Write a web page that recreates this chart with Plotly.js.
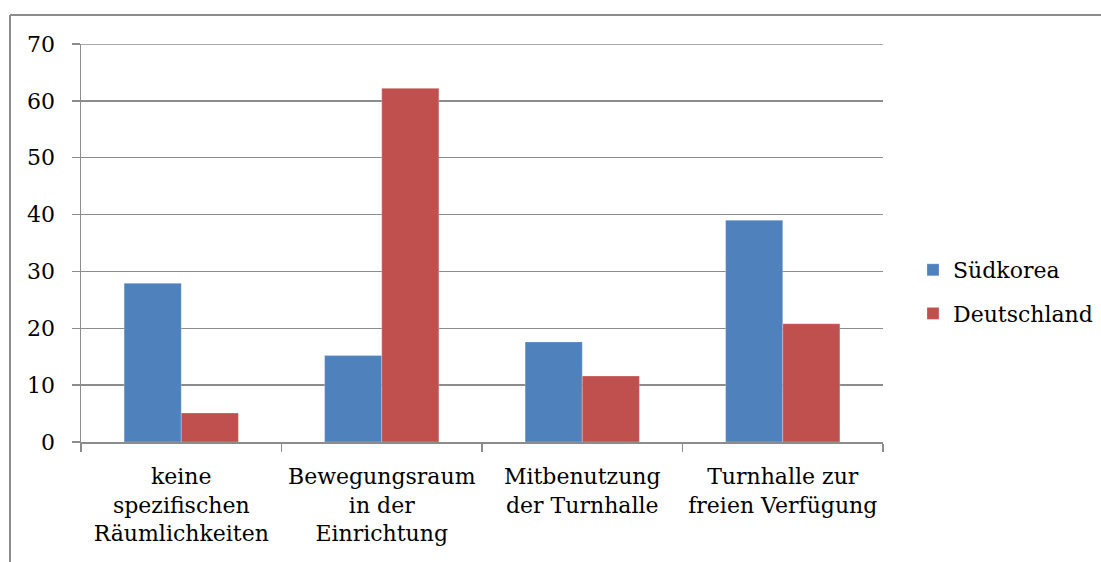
<!DOCTYPE html>
<html>
<head>
<meta charset="utf-8">
<script src="https://cdn.plot.ly/plotly-3.0.1.min.js"></script>
<style>html,body{margin:0;padding:0;background:#fff;}#chart{width:1101px;height:562px;}</style>
</head>
<body>
<div id="chart"></div>
<script>
const categories = [
  "keine<br>spezifischen<br>Räumlichkeiten",
  "Bewegungsraum<br>in der<br>Einrichtung",
  "Mitbenutzung<br>der Turnhalle",
  "Turnhalle zur<br>freien Verfügung"
];
const seriesNames = ["Südkorea", "Deutschland"];
const suedkorea = [27.9, 15.2, 17.6, 39.0];
const deutschland = [5.1, 62.2, 11.6, 20.8];
const yTicks = [0, 10, 20, 30, 40, 50, 60, 70];

const W = 1101, H = 562;
const M = {l: 81, r: 218, t: 44, b: 120, autoexpand: false};
const pw = W - M.l - M.r, ph = H - M.t - M.b;
const px = v => (v - M.l) / pw;
const py = v => (H - M.b - v) / ph;
const FONT = "DejaVu Serif, Liberation Serif, serif";
const FS = 22;
const GRID = "#8c8c8c";

const traces = [
  {type: "bar", name: seriesNames[0], x: categories, y: suedkorea, legendgroup: "a",
   marker: {color: "#4F81BD", line: {color: "rgba(255,255,255,0.5)", width: 0.5}}},
  {type: "bar", name: seriesNames[1], x: categories, y: deutschland, legendgroup: "b",
   marker: {color: "#C0504D", line: {color: "rgba(255,255,255,0.5)", width: 0.5}}}
];

const layout = {
  width: W, height: H,
  margin: M,
  paper_bgcolor: "#fff", plot_bgcolor: "#fff",
  font: {family: FONT, size: FS, color: "#000"},
  barmode: "group", bargap: 0.43, bargroupgap: 0,
  showlegend: true,
  legend: {x: px(913), y: py(292), xanchor: "left", yanchor: "middle",
           traceorder: "grouped", tracegroupgap: 12,
           font: {family: FONT, size: FS}, itemwidth: 30},
  xaxis: {type: "category", showline: true, linecolor: GRID, linewidth: 1.5, automargin: false,
          ticks: "outside", tickson: "boundaries", ticklen: 8, tickcolor: GRID, tickwidth: 1.5,
          showgrid: false, tickfont: {family: FONT, size: FS}, ticklabelstandoff: 14},
  yaxis: {range: [0, 70], tickvals: yTicks, showline: true, linecolor: GRID, linewidth: 1.5, automargin: false,
          ticks: "outside", ticklen: 8, tickcolor: GRID, tickwidth: 1.5,
          showgrid: true, gridcolor: GRID, gridwidth: 1.5, zeroline: false,
          tickfont: {family: FONT, size: FS}, ticklabelstandoff: 12},
  shapes: [
    {type: "line", xref: "paper", yref: "y", x0: px(73), x1: 1, y0: yTicks[yTicks.length - 1], y1: yTicks[yTicks.length - 1],
     line: {color: GRID, width: 1.5}},
    {type: "line", xref: "paper", yref: "paper", x0: px(10), x1: px(W + 5), y0: py(15), y1: py(15),
     line: {color: GRID, width: 2}},
    {type: "line", xref: "paper", yref: "paper", x0: px(10), x1: px(10), y0: py(15), y1: py(H + 5),
     line: {color: GRID, width: 2}}
  ]
};

Plotly.newPlot("chart", traces, layout, {staticPlot: true, displayModeBar: false});
</script>
</body>
</html>
